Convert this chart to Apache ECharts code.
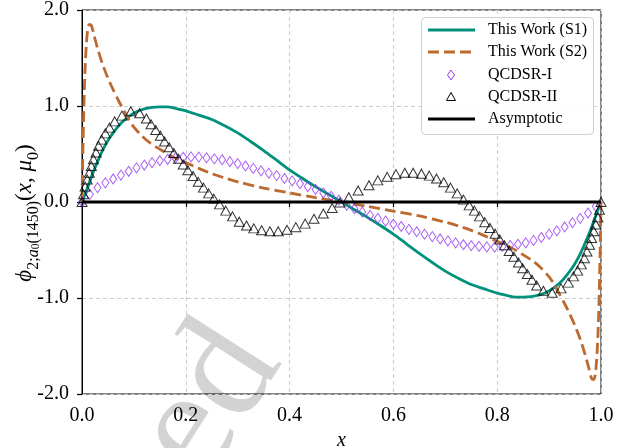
<!DOCTYPE html>
<html>
<head>
<meta charset="utf-8">
<script src="https://cdn.jsdelivr.net/npm/echarts@6/dist/echarts.min.js"></script>
<style>html,body{margin:0;padding:0;background:#fff;}#c{width:637px;height:448px;}</style>
</head>
<body>
<div id="c"></div>
<script>
// ---- data ----
const s1Data = [
  [0,0],[0.005,0.07],[0.01,0.14],[0.02,0.29],[0.03,0.42],[0.04,0.54],[0.05,0.64],[0.06,0.72],
  [0.075,0.82],[0.09,0.89],[0.105,0.94],[0.12,0.97],[0.135,0.985],[0.15,0.99],[0.165,0.99],
  [0.18,0.975],[0.2,0.95],[0.225,0.905],[0.25,0.86],[0.275,0.795],[0.3,0.72],[0.325,0.63],
  [0.35,0.535],[0.375,0.435],[0.4,0.335],[0.425,0.245],[0.45,0.16],[0.475,0.08],[0.5,0],
  [0.525,-0.08],[0.55,-0.16],[0.575,-0.245],[0.6,-0.335],[0.625,-0.435],[0.65,-0.535],
  [0.675,-0.63],[0.7,-0.72],[0.725,-0.795],[0.75,-0.86],[0.775,-0.905],[0.8,-0.95],
  [0.82,-0.975],[0.835,-0.99],[0.85,-0.99],[0.865,-0.985],[0.88,-0.97],[0.895,-0.94],
  [0.91,-0.89],[0.925,-0.82],[0.94,-0.72],[0.95,-0.64],[0.96,-0.54],[0.97,-0.42],
  [0.98,-0.29],[0.99,-0.14],[0.995,-0.07],[1,0]
];
const s2Data = [
  [0,0],[0.001,0.3],[0.003,0.85],[0.006,1.4],[0.01,1.75],[0.014,1.85],[0.018,1.84],
  [0.024,1.72],[0.03,1.6],[0.04,1.43],[0.05,1.29],[0.06,1.17],[0.07,1.06],[0.08,0.96],
  [0.09,0.86],[0.1,0.78],[0.115,0.69],[0.13,0.62],[0.15,0.55],[0.175,0.47],[0.2,0.41],
  [0.225,0.35],[0.25,0.295],[0.275,0.25],[0.3,0.21],[0.35,0.145],[0.4,0.095],[0.45,0.045],
  [0.5,0],[0.55,-0.045],[0.6,-0.095],[0.65,-0.145],[0.7,-0.21],[0.725,-0.25],[0.75,-0.295],
  [0.775,-0.35],[0.8,-0.41],[0.825,-0.47],[0.85,-0.55],[0.87,-0.62],[0.885,-0.69],
  [0.9,-0.78],[0.91,-0.86],[0.92,-0.96],[0.93,-1.06],[0.94,-1.17],[0.95,-1.29],
  [0.96,-1.43],[0.97,-1.6],[0.976,-1.72],[0.982,-1.84],[0.986,-1.85],[0.99,-1.75],
  [0.994,-1.4],[0.997,-0.85],[0.999,-0.3],[1,0]
];
const qcdsr1X = [
  0,0.015,0.03,0.045,0.06,0.075,0.09,0.105,0.12,0.135,0.15,0.165,0.18,0.195,0.21,0.225,
  0.24,0.255,0.27,0.285,0.3,0.315,0.33,0.345,0.36,0.375,0.39,0.405,0.42,0.435,0.45,0.465,
  0.48,0.495,0.51,0.525,0.54,0.555,0.57,0.585,0.6,0.615,0.63,0.645,0.66,0.675,0.69,0.705,
  0.72,0.735,0.75,0.765,0.78,0.795,0.81,0.825,0.84,0.855,0.87,0.885,0.9,0.915,0.93,0.945,
  0.96,0.975,0.99
];
const qcdsr1Y = [
  0,0.08,0.15,0.2,0.24,0.28,0.32,0.355,0.385,0.41,0.43,0.445,0.458,0.466,0.47,0.468,
  0.46,0.45,0.44,0.42,0.4,0.375,0.35,0.325,0.3,0.275,0.245,0.22,0.19,0.16,0.13,0.095,
  0.06,0.02,-0.035,-0.07,-0.105,-0.14,-0.17,-0.2,-0.23,-0.255,-0.285,-0.31,-0.335,-0.36,-0.385,-0.405,
  -0.425,-0.445,-0.455,-0.462,-0.468,-0.47,-0.462,-0.452,-0.44,-0.425,-0.4,-0.37,-0.335,-0.3,-0.26,-0.215,
  -0.17,-0.115,-0.045
];
const qcdsr2Data = [
  [0,0],[0.003,0.08],[0.006,0.16],[0.01,0.235],[0.014,0.305],[0.018,0.375],[0.022,0.445],
  [0.027,0.515],[0.032,0.585],[0.038,0.65],[0.045,0.715],[0.053,0.775],[0.063,0.84],
  [0.077,0.9],[0.094,0.945],[0.111,0.925],[0.124,0.87],[0.133,0.81],[0.142,0.75],
  [0.151,0.69],[0.159,0.63],[0.168,0.57],[0.177,0.51],[0.186,0.45],[0.195,0.39],
  [0.204,0.33],[0.214,0.27],[0.224,0.21],[0.234,0.15],[0.244,0.09],[0.254,0.035],
  [0.265,-0.025],[0.277,-0.09],[0.29,-0.15],[0.303,-0.205],[0.317,-0.245],[0.331,-0.275],
  [0.346,-0.295],[0.362,-0.305],[0.378,-0.305],[0.395,-0.29],[0.412,-0.262],[0.43,-0.225],
  [0.447,-0.175],[0.465,-0.12],[0.482,-0.062],[0.497,-0.005],[0.514,0.05],[0.532,0.12],
  [0.553,0.175],[0.57,0.225],[0.588,0.262],[0.605,0.29],[0.622,0.305],[0.638,0.305],
  [0.654,0.295],[0.669,0.275],[0.683,0.245],[0.697,0.205],[0.71,0.15],[0.723,0.09],
  [0.735,0.025],[0.746,-0.035],[0.756,-0.09],[0.766,-0.15],[0.776,-0.21],[0.786,-0.27],
  [0.796,-0.33],[0.805,-0.39],[0.814,-0.45],[0.823,-0.51],[0.832,-0.57],[0.841,-0.63],
  [0.849,-0.69],[0.858,-0.75],[0.867,-0.81],[0.876,-0.87],[0.889,-0.925],[0.906,-0.945],
  [0.923,-0.9],[0.937,-0.84],[0.947,-0.775],[0.955,-0.715],[0.962,-0.65],[0.968,-0.585],
  [0.973,-0.515],[0.978,-0.445],[0.982,-0.375],[0.986,-0.305],[0.99,-0.235],[0.994,-0.16],
  [0.997,-0.08],[1,0]
];
const asymData = [[0,0],[1,0]];
const xTicks = [0,0.2,0.4,0.6,0.8,1.0];
const yTicks = [-2,-1,0,1,2];
const legendNames = ['This Work (S1)','This Work (S2)','QCDSR-I','QCDSR-II','Asymptotic'];

// ---- styling ----
const C_S1 = '#00917c', C_S2 = '#bd6a30', C_Q1 = '#9436f2', C_Q2 = '#000000', C_AS = '#000000';
const SERIF = '"Liberation Serif","DejaVu Serif",serif';

const chart = echarts.init(document.getElementById('c'), null, {renderer:'canvas'});

const q1 = qcdsr1X.map((x,i)=>[x,qcdsr1Y[i]]);

// legend drawn as graphics
const LX = 421, LY = 17, LW = 172, LH = 117;
const rowY = [30, 52, 75, 97, 119];
const graphics = [
  {type:'rect', shape:{x:LX+0.5,y:LY+0.5,width:LW,height:LH,r:4}, style:{fill:'rgba(255,255,255,0.85)',stroke:'#cfcfcf',lineWidth:1}, z:100},
  {type:'line', shape:{x1:428,y1:rowY[0],x2:475,y2:rowY[0]}, style:{stroke:C_S1,lineWidth:2.8}, z:101},
  {type:'line', shape:{x1:428,y1:rowY[1],x2:476,y2:rowY[1]}, style:{stroke:C_S2,lineWidth:2.8,lineDash:[11,5]}, z:101},
  {type:'polygon', shape:{points:[[451,rowY[2]-5],[454.5,rowY[2]],[451,rowY[2]+5],[447.5,rowY[2]]]}, style:{fill:'none',stroke:C_Q1,lineWidth:1}, z:101},
  {type:'polygon', shape:{points:[[451,rowY[3]-4.5],[455.5,rowY[3]+3.5],[446.5,rowY[3]+3.5]]}, style:{fill:'none',stroke:C_Q2,lineWidth:1}, z:101},
  {type:'line', shape:{x1:428,y1:rowY[4],x2:475,y2:rowY[4]}, style:{stroke:C_AS,lineWidth:2.8}, z:101}
];
legendNames.forEach((n,i)=>{
  graphics.push({type:'text', x:488, y:rowY[i], z:101,
    style:{text:n, fill:'#000', font:'16px '+SERIF, verticalAlign:'middle', align:'left'}});
});
// y-axis title (rotated, with sub/subscripts)
graphics.push({type:'text', x:25, y:213, rotation:Math.PI/2, z:101,
  style:{
    text:'{i|ϕ}{s|2;}{si|a}{ss|0}{s|(1450)}{m|(}{i|x}{m|, }{i|μ}{s|0}{m|)}',
    align:'center', verticalAlign:'middle', fill:'#000',
    rich:{
      i:{fontFamily:SERIF, fontStyle:'italic', fontSize:23, lineHeight:34, fill:'#000'},
      m:{fontFamily:SERIF, fontSize:23, lineHeight:34, fill:'#000'},
      s:{fontFamily:SERIF, fontSize:16, lineHeight:21, verticalAlign:'bottom', fill:'#000'},
      si:{fontFamily:SERIF, fontStyle:'italic', fontSize:16, lineHeight:21, verticalAlign:'bottom', fill:'#000'},
      ss:{fontFamily:SERIF, fontSize:11.5, lineHeight:12, verticalAlign:'bottom', fill:'#000'}
    }
  }});
// watermark (partial, behind the axes)
graphics.push({type:'text', x:171, y:462, rotation:57.4*Math.PI/180, z:-10, silent:true,
  style:{text:'ed', fill:'#d3d3d3', font:'153px '+SERIF, verticalAlign:'middle', align:'left'}});

const option = {
  animation:false,
  backgroundColor:'#fff',
  grid:{left:82, top:10, width:519, height:384, show:true, borderColor:'#000', borderWidth:1,
    backgroundColor:'transparent', containLabel:false, outerBoundsMode:'none'},
  xAxis:{
    type:'value', min:0, max:1, interval:0.2,
    name:'x', nameLocation:'middle', nameGap:30,
    nameTextStyle:{fontFamily:SERIF, fontStyle:'italic', fontSize:20, color:'#000'},
    axisLine:{show:true, lineStyle:{color:'#000', width:1}},
    axisTick:{show:true, length:5, lineStyle:{color:'#000', width:1.2}},
    axisLabel:{fontFamily:SERIF, fontSize:20, color:'#000', margin:12,
      formatter:v=>{const t=xTicks.find(k=>Math.abs(k-v)<1e-9); return (t!==undefined?t:v).toFixed(1);}},
    splitLine:{show:true, lineStyle:{color:'#cccccc', width:1, type:[4,3]}}
  },
  yAxis:{
    type:'value', min:-2, max:2, interval:1,
    axisLine:{show:true, lineStyle:{color:'#000', width:1}},
    axisTick:{show:true, length:5, lineStyle:{color:'#000', width:1.2}},
    axisLabel:{fontFamily:SERIF, fontSize:20, color:'#000', margin:13,
      formatter:v=>{const t=yTicks.find(k=>Math.abs(k-v)<1e-9); return (t!==undefined?t:v).toFixed(1);}},
    splitLine:{show:true, lineStyle:{color:'#cccccc', width:1, type:[4,3]}}
  },
  series:[
    {name:legendNames[0], type:'line', data:s1Data, smooth:0.3, showSymbol:false, symbol:'none',
      lineStyle:{color:C_S1, width:2.8}, itemStyle:{color:C_S1}, z:2},
    {name:legendNames[1], type:'line', data:s2Data, smooth:0.3, showSymbol:false, symbol:'none',
      lineStyle:{color:C_S2, width:2.8, type:[11,5]}, itemStyle:{color:C_S2}, z:3},
    {name:legendNames[2], type:'scatter', data:q1, symbol:'diamond', symbolSize:[7,10],
      itemStyle:{color:'rgba(0,0,0,0)', borderColor:C_Q1, borderWidth:1}, z:4},
    {name:legendNames[3], type:'scatter', data:qcdsr2Data, symbol:'triangle', symbolSize:[10,9],
      itemStyle:{color:'rgba(0,0,0,0)', borderColor:C_Q2, borderWidth:1}, z:5},
    {name:legendNames[4], type:'line', data:asymData, showSymbol:false, symbol:'none',
      lineStyle:{color:C_AS, width:2.8}, z:6}
  ],
  graphic:graphics
};
chart.setOption(option);
</script>
</body>
</html>
